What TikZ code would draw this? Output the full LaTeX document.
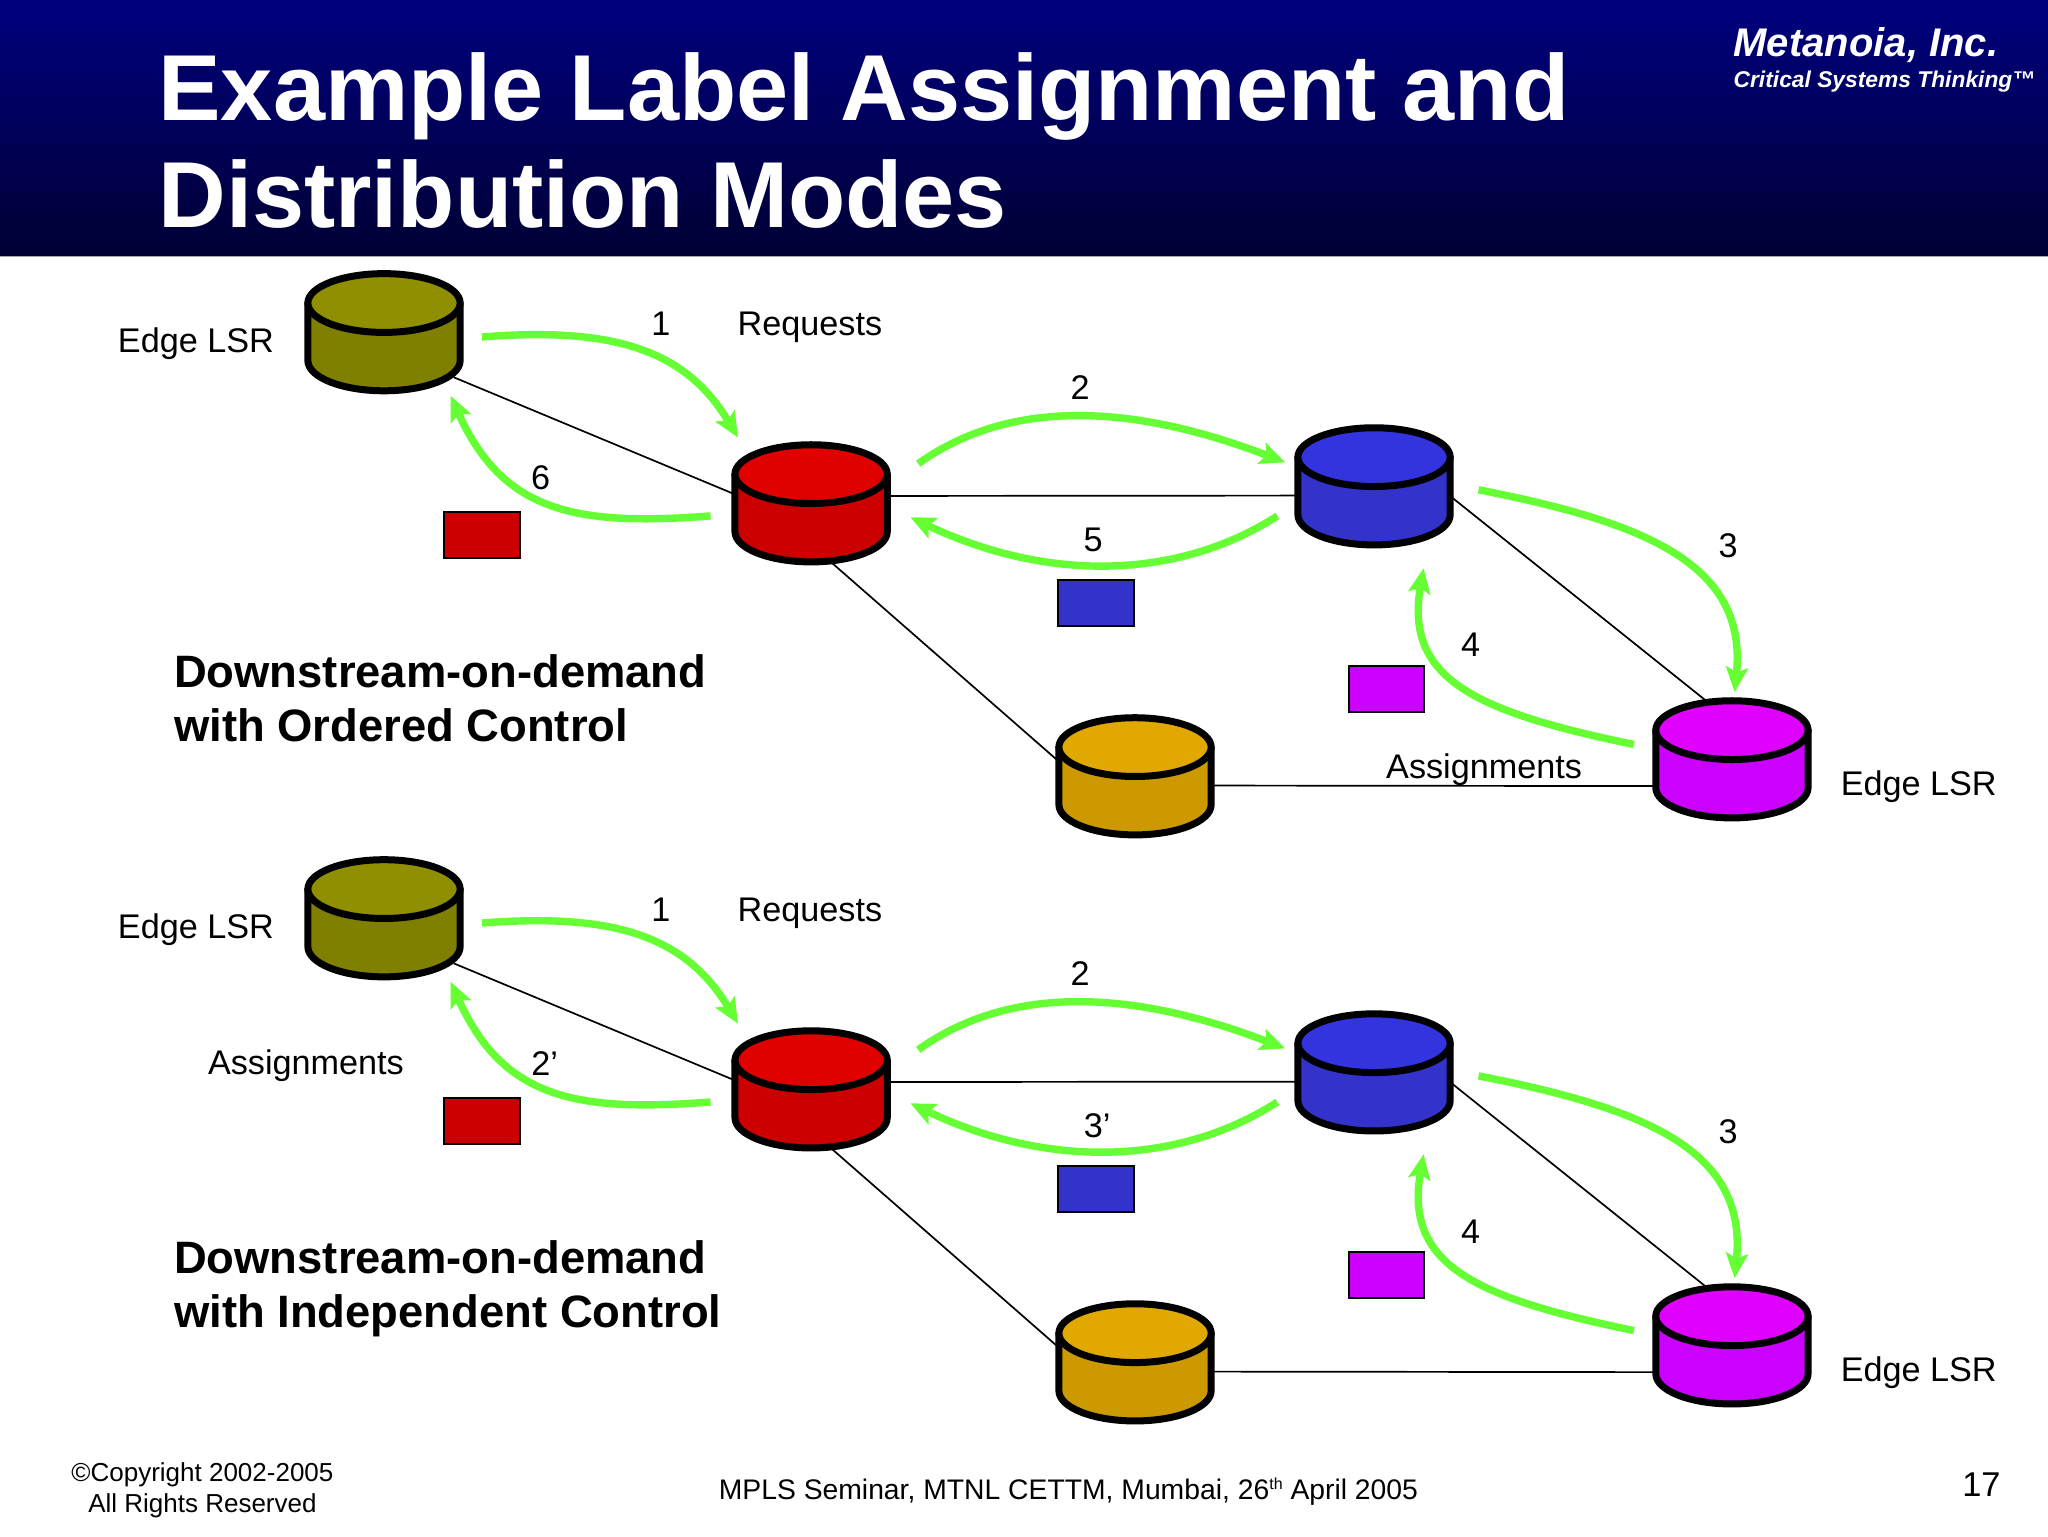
\documentclass[tikz,border=0pt]{standalone}
\usepackage{fontspec}
\setmainfont{Liberation Sans}
\usetikzlibrary{arrows.meta}
\definecolor{arrowgreen}{HTML}{66FF33}
\definecolor{oliveT}{HTML}{8F8F00}\definecolor{oliveB}{HTML}{808000}
\definecolor{redT}{HTML}{E00000}\definecolor{redB}{HTML}{CC0000}
\definecolor{blueT}{HTML}{3333E0}\definecolor{blueB}{HTML}{3333CC}
\definecolor{goldT}{HTML}{E0A800}\definecolor{goldB}{HTML}{CC9900}
\definecolor{magT}{HTML}{E000FF}\definecolor{magB}{HTML}{CC00FF}
\tikzset{
  cylbox/.style={minimum width=121*0.653pt,minimum height=94*0.653pt,inner sep=0pt,outer sep=0pt,draw=none},
  cylline/.style={draw=black,line width=3.5pt,line join=round},
  link/.style={draw=black,line width=0.85pt,shorten <=-5pt,shorten >=-5pt},
  flow/.style={draw=arrowgreen,line width=3.7pt,-{Stealth[length=12.5pt,width=11pt,inset=2.5pt]}},
  tag/.style={draw=black,line width=1pt,minimum width=58*0.653pt,minimum height=35*0.653pt,inner sep=0pt},
  lab/.style={anchor=base,inner sep=0pt,font=\fontsize{17.1}{20}\selectfont,text=black},
  labw/.style={lab,anchor=base west},
  heading/.style={anchor=base west,inner sep=0pt,font=\fontsize{22.7}{26}\bfseries\selectfont,text=black},
  foot/.style={anchor=base,inner sep=0pt,font=\fontsize{13}{16}\selectfont,text=black},
  titletext/.style={anchor=base west,inner sep=0pt,font=\fontsize{46.85}{56}\bfseries\selectfont,text=white},
}
\newcommand{\cylshape}[4]{%
  \begin{scope}[shift={(#1,#2)}]
    \draw[cylline,fill=#4] (-58.3,-22) -- (-58.3,22) .. controls (-58.3,35) and (-32,45.2) .. (0,45.2)
       .. controls (32,45.2) and (58.3,35) .. (58.3,22) -- (58.3,-22) -- cycle;
    \draw[cylline,fill=#3] (0,-22) circle [x radius=58.3,y radius=22.5];
  \end{scope}}
\newcommand{\flowarc}[5]{%
  \coordinate (#1s) at (#2);
  \coordinate (#1e) at (#5);
  \draw[flow] (#1s) .. controls (#3) and (#4) .. (#1e);}
\newcommand{\network}[1]{%
  \node[cylbox] (o#1) at (294,254) {};
  \node[cylbox] (r#1) at (621,385) {};
  \node[cylbox] (b#1) at (1052,372) {};
  \node[cylbox] (g#1) at (869,594) {};
  \node[cylbox] (m#1) at (1326,581) {};
  \draw[link] (o#1.-32) -- (r#1.173);
  \draw[link] (r#1.5.7) -- (b#1.187.6);
  \draw[link] (r#1.-70) -- (g#1.168.8);
  \draw[link] (b#1.-9.4) -- (m#1.116);
  \draw[link] (g#1.-7.5) -- (m#1.199);
  \cylshape{294}{254}{oliveT}{oliveB}
  \cylshape{621}{385}{redT}{redB}
  \cylshape{1052}{372}{blueT}{blueB}
  \cylshape{869}{594}{goldT}{goldB}
  \cylshape{1326}{581}{magT}{magB}
  \flowarc{fa#1}{369,258}{470,250}{525,268}{565,335}
  \flowarc{fb#1}{703,355}{780,300}{880,314}{984,354}
  \flowarc{fc#1}{1132,375}{1260,400}{1338,432}{1328,530}
  \flowarc{fd#1}{1251,570}{1130,545}{1075,520}{1090,435}
  \flowarc{fe#1}{978,395}{900,445}{800,445}{697,396}
  \flowarc{ff#1}{544,395}{440,403}{385,392}{345,303}
  \node[tag,fill=redB] (tr#1) at (369,409.5) {};
  \node[tag,fill=blueB] (tb#1) at (839,461.5) {};
  \node[tag,fill=magB] (tm#1) at (1061.5,527.5) {};
  \node[labw] (edgeA#1) at (90,270) {Edge LSR};
  \node[labw] (edgeB#1) at (1409,609) {Edge LSR};
  \node[labw] (req#1) at (564.5,257) {Requests};
  \node[lab] (na#1) at (506,257) {1};
  \node[lab] (nb#1) at (827,306) {2};
  \node[lab] (nc#1) at (1323,427) {3};
  \node[lab] (nd#1) at (1126,503) {4};
}
\begin{document}
\begin{tikzpicture}[x=0.653061pt,y=-0.653061pt]
  \useasboundingbox (0,0) rectangle (1568,1176);
  \fill[white] (0,0) rectangle (1568,1176);
  \shade[top color=black!0!blue!50!black,bottom color=black!80!blue] (0,0) rectangle (1568,196);
  \draw[black!35,line width=0.4pt] (0,196) -- (1568,196);
  \node[titletext] (t1) at (121,92) {Example Label Assignment and};
  \node[titletext] (t2) at (121,174) {Distribution Modes};
  \node[anchor=base west,inner sep=0pt,text=white,font=\fontsize{20}{24}\bfseries\itshape\selectfont] (brand1) at (1327,43) {Metanoia, Inc.};
  \node[anchor=base west,inner sep=0pt,text=white,font=\fontsize{11.4}{15}\bfseries\itshape\selectfont] (brand2) at (1327,67) {Critical Systems Thinking™};
  \begin{scope}
    \network{U}
    \node[lab] (six) at (414,375) {6};
    \node[lab] (five) at (837,422) {5};
    \node[labw] (assignU) at (1061,596) {Assignments};
    \node[heading] (h1a) at (133,526) {Downstream-on-demand};
    \node[heading] (h1b) at (133,568) {with Ordered Control};
  \end{scope}
  \begin{scope}[shift={(0,448.7)}]
    \network{L}
    \node[lab] (twop) at (417,375) {2’};
    \node[lab] (threep) at (840,422) {3’};
    \node[labw] (assignL) at (159,374) {Assignments};
    \node[heading] (h2a) at (133,526) {Downstream-on-demand};
    \node[heading] (h2b) at (133,568) {with Independent Control};
  \end{scope}
  \node[foot] (c1) at (155,1134) {©Copyright 2002-2005};
  \node[foot] (c2) at (155,1158) {All Rights Reserved};
  \node[foot,font=\fontsize{14.15}{16}\selectfont] (sem) at (818,1148) {MPLS Seminar, MTNL CETTM, Mumbai, 26\raisebox{5pt}{\fontsize{8}{8}\selectfont th} April 2005};
  \node[anchor=base,inner sep=0pt,font=\fontsize{17.2}{20}\selectfont] (page) at (1517,1146) {17};
\end{tikzpicture}
\end{document}
